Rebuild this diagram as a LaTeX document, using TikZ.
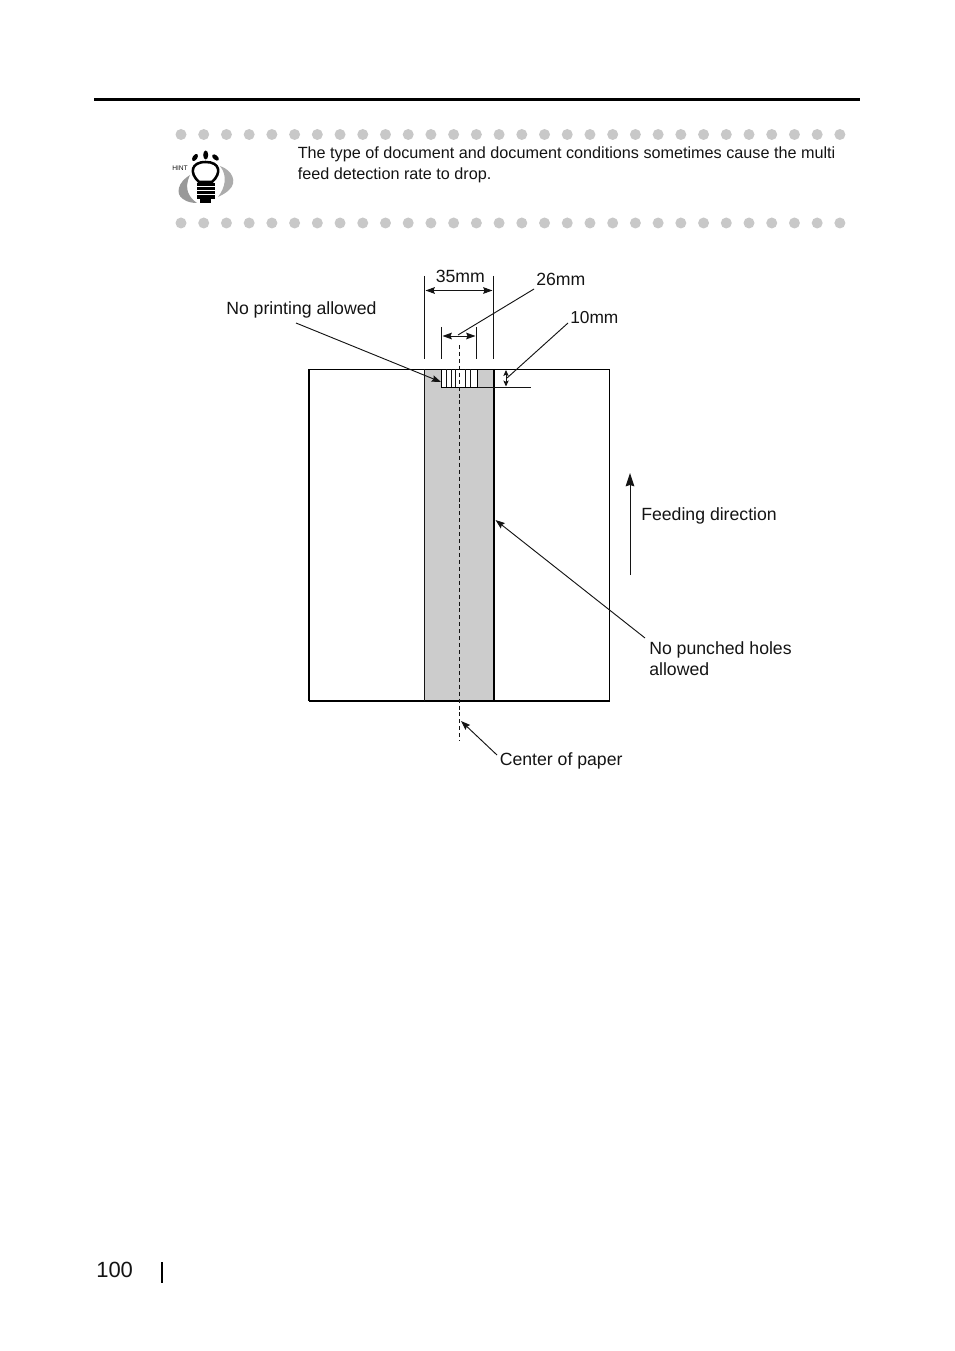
\documentclass[tikz,border=0pt]{standalone}
\usepackage{fontspec}
\setmainfont{Liberation Sans}
\usetikzlibrary{positioning, arrows.meta}
\definecolor{dotgray}{RGB}{200, 200, 200}
\definecolor{bandgray}{RGB}{204, 204, 204}
\definecolor{inkblack}{RGB}{20, 20, 20}

\begin{document}
\begin{tikzpicture}[
  x=0.75pt, y=-0.75pt,
  label/.style={inner sep=0pt, anchor=base west, font=\fontsize{13.25}{15.6}\selectfont, text=inkblack},
  hint/.style={inner sep=0pt, anchor=base west, font=\fontsize{12.15}{15.6}\selectfont, text=inkblack},
  arrow/.style={-{Stealth[length=7pt, width=5pt, inset=1pt]}, line width=0.7pt, inkblack},
  dim/.style={{Stealth[length=7pt, width=5pt, inset=1pt]}-{Stealth[length=7pt, width=5pt, inset=1pt]}, line width=0.7pt, inkblack},
  guide/.style={line width=0.85pt, inkblack},
  lead/.style={line width=0.7pt, inkblack}
]
\useasboundingbox (0,0) rectangle (954,1351);

% Header rule and page number
\coordinate (ruleL) at (94,99.5);
\coordinate (ruleR) at (860,99.5);
\draw[line width=2.4pt, black] (ruleL) -- (ruleR);
\node[label, font=\fontsize{16.5}{18}\selectfont] (page) at (96,1277) {100};
\coordinate (barT) at (161.5,1262);
\coordinate (barB) at (161.5,1283);
\draw[line width=1.5pt, black] (barT) -- (barB);

% Hint block
\foreach \i in {0,...,29} {
  \fill[dotgray] (181+22.72*\i,134.5) circle (5.5);
  \fill[dotgray] (181+22.72*\i,223) circle (5.5);
}
\fill[gray!80] (190,175) .. controls (178,182) and (175,194) .. (183,199) .. controls (187,202) and (192,203) .. (197,203) .. controls (190,198) and (183,190) .. (190,175) -- cycle;
\fill[gray!65] (220,166) .. controls (232,170) and (238,182) .. (229,190) .. controls (226,193) and (222,195) .. (218,197) .. controls (225,188) and (228,176) .. (220,166) -- cycle;
\draw[line width=1.9pt, black, fill=white] (199,182) .. controls (189,173) and (191,162) .. (205.7,162) .. controls (220,162) and (222,173) .. (212,182) -- cycle;
\fill[black] (197,183) rectangle (215,199);
\foreach \y in {186,190,194} \fill[white] (197,\y) rectangle (215,\y+1.2);
\fill[black] (200,199) rectangle (211,203.5);
\fill[black, rotate around={-35:(195,157.5)}] (195,157.5) ellipse (2.3 and 4);
\fill[black] (205.7,155) ellipse (2.5 and 4.5);
\fill[black, rotate around={50:(215.5,157.5)}] (215.5,157.5) ellipse (2.3 and 4);
\node[inner sep=0pt, anchor=base west, font=\fontsize{5}{6}\selectfont, text=inkblack] (hintword) at (172,170.5) {HINT};
\node[hint] (hint1) at (297.5,158.5) {The type of document and document conditions sometimes cause the multi};
\node[hint] (hint2) at (297.5,179.5) {feed detection rate to drop.};

% Paper
\fill[bandgray] (424,369.5) rectangle (494,700.5);
\node[draw=none, inner sep=0pt, minimum width=300pt*0.75, minimum height=331pt*0.75, anchor=north west] (paper) at (309,369.5) {};
\draw[line width=0.85pt, black] (paper.north west) -- (paper.north east) -- (paper.south east);
\draw[line width=0.85pt, black] (paper.north west) -- (paper.south west);
\draw[line width=1.5pt, black] (paper.south west) -- (paper.south east);
\coordinate (bandTL) at (424,369.5);
\coordinate (bandBL) at (424,700.5);
\coordinate (bandTR) at (494,369.5);
\coordinate (bandBR) at (494,700.5);
\draw[line width=0.6pt, inkblack] (bandTL) -- (bandBL);
\draw[line width=1.5pt, black] (bandTR) -- (bandBR);

% Print area
\node[fill=white, inner sep=0pt, minimum width=35pt*0.75, minimum height=17.5pt*0.75, anchor=north west] (print) at (441.5,369.5) {};
\foreach \x in {446.7,451.7,455.5,465,470} \draw[line width=0.6pt, inkblack] (\x,369.5) -- (\x,387);
\draw[line width=1.1pt, black] (print.north west) -- (print.south west) -- (print.south east);
\draw[line width=0.7pt, black] (print.south east) -- (print.north east);
\coordinate (ledgeL) at (478,387);
\coordinate (ledgeR) at (531,387);
\draw[lead] (ledgeL) -- (ledgeR);

% Center line
\coordinate (centerT) at (459.5,345);
\coordinate (centerB) at (459.5,741);
\draw[line width=0.85pt, inkblack, dash pattern=on 3pt off 2.2pt] (centerT) -- (centerB);

% Dimension guides
\coordinate (g1T) at (424.5,276);
\coordinate (g1B) at (424.5,359);
\coordinate (g2T) at (493.5,276);
\coordinate (g2B) at (493.5,359);
\coordinate (g3T) at (441.5,327);
\coordinate (g3B) at (441.5,359);
\coordinate (g4T) at (476.5,327);
\coordinate (g4B) at (476.5,359);
\draw[guide] (g1T) -- (g1B);
\draw[guide] (g2T) -- (g2B);
\draw[guide] (g3T) -- (g3B);
\draw[guide] (g4T) -- (g4B);

% Dimensions
\coordinate (d35L) at (425.5,290.5);
\coordinate (d35R) at (492.5,290.5);
\coordinate (d26L) at (442.5,336);
\coordinate (d26R) at (475.5,336);
\coordinate (d10T) at (506,370);
\coordinate (d10B) at (506,386.5);
\draw[dim] (d35L) -- (d35R);
\draw[dim] (d26L) -- (d26R);
\draw[{Stealth[length=4.5pt, width=4pt, inset=1pt]}-{Stealth[length=4.5pt, width=4pt, inset=1pt]}, line width=0.7pt, inkblack] (d10T) -- (d10B);

% Labels
\node[label] (l35) at (435.5,282.6) {35mm};
\node[label] (l26) at (536,285.6) {26mm};
\node[label, font=\fontsize{13}{14}\selectfont] (l10) at (570,323.5) {10mm};
\node[label] (lprint) at (226,314.6) {No printing allowed};
\node[label] (lfeed) at (641,520) {Feeding direction};
\node[label] (lholes) at (649,654) {No punched holes};
\node[label] (lholes2) at (649,675) {allowed};
\node[label] (lcenter) at (499.5,765) {Center of paper};

% Arrows
\coordinate (from26) at (534,289);
\coordinate (to26) at (458,335);
\coordinate (from10) at (568,323);
\coordinate (to10) at (507,378);
\coordinate (fromprint) at (296,323);
\coordinate (toprint) at (441,382);
\coordinate (feedB) at (630,575);
\coordinate (feedT) at (630,473);
\coordinate (fromholes) at (645,638);
\coordinate (toholes) at (495.5,520);
\coordinate (fromcenter) at (497,755);
\coordinate (tocenter) at (461,721);
\draw[lead] (from26) -- (to26);
\draw[lead] (from10) -- (to10);
\draw[arrow] (fromprint) -- (toprint);
\draw[-{Stealth[length=10pt, width=6.5pt, inset=1pt]}, line width=0.7pt, inkblack] (feedB) -- (feedT);
\draw[arrow] (fromholes) -- (toholes);
\draw[arrow] (fromcenter) -- (tocenter);

\end{tikzpicture}
\end{document}
